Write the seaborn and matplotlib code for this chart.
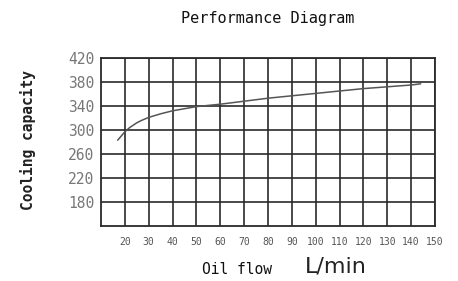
import matplotlib
matplotlib.use("Agg")
import matplotlib.pyplot as plt
import seaborn as sns
import pandas as pd

# values
flow = [17, 20, 22, 25, 27, 30, 35, 40, 50, 60, 70, 80, 90, 100, 110, 120, 130, 140, 144]
capacity = [283, 297, 304, 312, 316, 321, 327, 332, 339, 343, 348, 353, 357, 361, 365, 369, 372, 375, 377]
x_ticks = list(range(20, 151, 10))
y_ticks = list(range(180, 421, 40))

df = pd.DataFrame({"flow": flow, "capacity": capacity})

sns.set_style("white")
plt.rcParams["font.family"] = ["DejaVu Sans Mono", "DejaVu Sans"]

fig = plt.figure(figsize=(4.58, 2.81), dpi=100)
ax = fig.add_axes([0.2205, 0.1957, 0.7293, 0.5979])

sns.lineplot(data=df, x="flow", y="capacity", ax=ax, color="#555555", lw=1.1)

ax.set_xlim(10, 150)
ax.set_ylim(140, 420)
ax.set_xticks(x_ticks)
ax.set_yticks(y_ticks)
ax.set_xticklabels([str(v) for v in x_ticks], fontsize=7, color="#555555")
ax.set_yticklabels([str(v) for v in y_ticks], fontsize=10.5, color="#777777")
ax.tick_params(axis="x", length=0, pad=8)
ax.tick_params(axis="y", length=3, width=1, color="#333333", pad=2)
ax.grid(True, color="#2a2a2a", lw=1.2)
for s in ax.spines.values():
    s.set_color("#2a2a2a")
    s.set_linewidth(1.3)
ax.set_xlabel("")
ax.set_ylabel("")

fig.text(268 / 458, 1 - 18 / 281, "Performance Diagram", ha="center", va="center",
         fontsize=11, color="#111111")
fig.text(28 / 458, 1 - 140 / 281, "Cooling capacity", rotation=90, ha="center",
         va="center", fontsize=10.5, fontweight="bold", color="#222222")
fig.text(237 / 458, 1 - 269 / 281, "Oil flow", ha="center", va="center",
         fontsize=10.5, color="#111111")
fig.text(336 / 458, 1 - 266 / 281, "L/min", ha="center", va="center",
         fontsize=16, color="#222222", family="DejaVu Sans")

fig.savefig("out.png", dpi=100)
